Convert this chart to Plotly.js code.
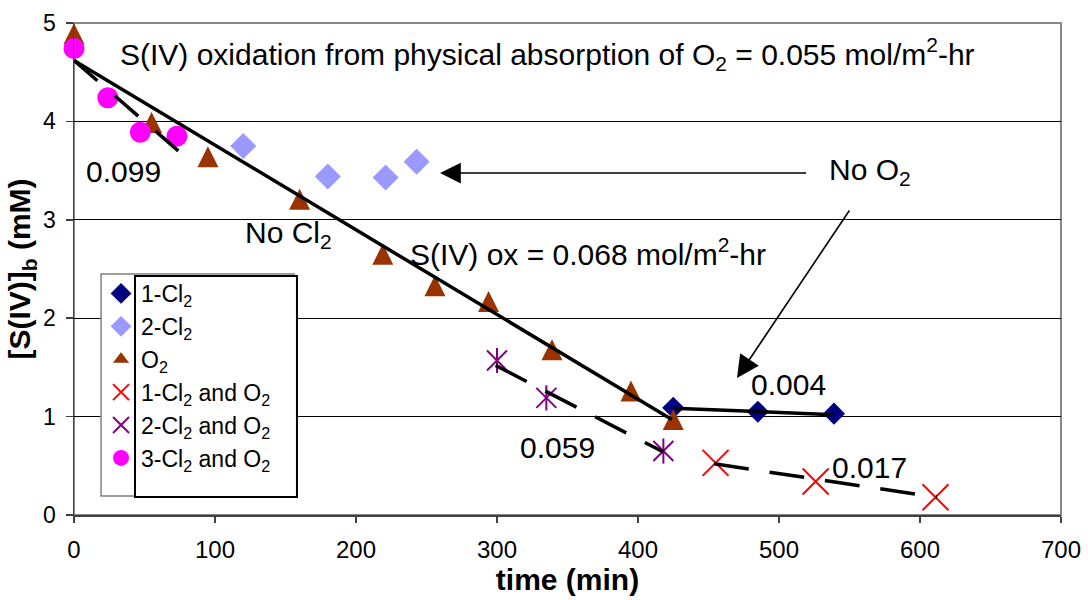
<!DOCTYPE html>
<html>
<head>
<meta charset="utf-8">
<script src="https://cdn.plot.ly/plotly-3.0.1.min.js"></script>
<style>
  html, body { margin: 0; padding: 0; background: #fff; }
  #chart { width: 1088px; height: 600px; }
</style>
</head>
<body>
<div id="chart"></div>
<script>
// Bulk S(IV) concentration (mM) against time (min) for each run
const t_1Cl2 = [425, 485, 539];
const c_1Cl2 = [1.09, 1.05, 1.03];

const t_2Cl2 = [120, 180, 221, 243];
const c_2Cl2 = [3.75, 3.44, 3.43, 3.59];

const t_O2 = [0, 55, 95, 160, 219, 256, 294, 339, 395, 425];
const c_O2 = [4.89, 3.99, 3.64, 3.21, 2.65, 2.33, 2.17, 1.68, 1.26, 0.97];

const t_1Cl2O2 = [455, 526, 611];
const c_1Cl2O2 = [0.53, 0.34, 0.18];

const t_2Cl2O2 = [300, 335, 418];
const c_2Cl2O2 = [1.57, 1.19, 0.65];

const t_3Cl2O2 = [0, 24, 47, 73];
const c_3Cl2O2 = [4.74, 4.24, 3.89, 3.85];

// Linear fits (end points) drawn over the data
const fitO2_t = [0, 424];        const fitO2_c = [4.62, 0.97];
const fit3_t = [0, 74];          const fit3_c = [4.62, 3.70];
const fit2_t = [299, 418];       const fit2_c = [1.52, 0.64];
const fit1O2_t = [454, 612];     const fit1O2_c = [0.52, 0.18];
const fit1_t = [425, 539];       const fit1_c = [1.085, 1.02];

// Legend labels
const seriesNames = [
  '1-Cl<sub>2</sub>',
  '2-Cl<sub>2</sub>',
  'O<sub>2</sub>',
  '1-Cl<sub>2</sub> and O<sub>2</sub>',
  '2-Cl<sub>2</sub> and O<sub>2</sub>',
  '3-Cl<sub>2</sub> and O<sub>2</sub>'
];

const FONT = 'Liberation Sans, Arial, sans-serif';

function pts(x, y, name, group, marker, showlegend) {
  return {
    type: 'scatter', mode: 'markers', x: x, y: y, name: name,
    legendgroup: group, showlegend: showlegend !== false,
    marker: marker, cliponaxis: false, hoverinfo: 'x+y'
  };
}
function fit(x, y, dash) {
  return {
    type: 'scatter', mode: 'lines', x: x, y: y, showlegend: false,
    line: { color: '#000', width: 3.5, dash: dash || 'solid' },
    cliponaxis: false, hoverinfo: 'skip'
  };
}

const traces = [
  pts(t_1Cl2, c_1Cl2, seriesNames[0], 'g1',
      { symbol: 'diamond', size: 17, color: '#000080' }),
  pts(t_2Cl2, c_2Cl2, seriesNames[1], 'g2',
      { symbol: 'diamond', size: 20, color: '#9999FF' }),
  // O2 run: tall triangles centred on each point
  pts(t_O2, c_O2, seriesNames[2], 'g3',
      { symbol: 'arrow-down', angle: 180, standoff: 10.5, size: 21, color: '#993300' }, false),
  // legend swatch for the O2 run (no points of its own)
  pts([null], [null], seriesNames[2], 'g3',
      { symbol: 'triangle-up', size: 14, color: '#993300' }),
  pts(t_1Cl2O2, c_1Cl2O2, seriesNames[3], 'g4',
      { symbol: 'x-thin-open', size: 26, color: '#FF0000', line: { color: '#FF0000', width: 2 } }),
  pts(t_2Cl2O2, c_2Cl2O2, seriesNames[4], 'g5',
      { symbol: 'x-thin-open', size: 20, color: '#800080', line: { color: '#800080', width: 2 } }),
  pts(t_2Cl2O2, c_2Cl2O2, seriesNames[4], 'g5',
      { symbol: 'line-ns-open', size: 18, color: '#800080', line: { color: '#800080', width: 2 } }, false),
  pts(t_3Cl2O2, c_3Cl2O2, seriesNames[5], 'g6',
      { symbol: 'circle', size: 21, color: '#FF00FF' }),
  fit(fitO2_t, fitO2_c),
  fit(fit3_t, fit3_c, '31px,23px'),
  fit(fit2_t, fit2_c, '35px,21px'),
  fit(fit1O2_t, fit1O2_c, '35px,21px'),
  fit(fit1_t, fit1_c)
];

function note(text, x, y, xanchor) {
  return {
    text: text, x: x, y: y, xref: 'x', yref: 'y',
    xanchor: xanchor || 'center', yanchor: 'middle', showarrow: false,
    font: { family: FONT, size: 30, color: '#000' }
  };
}
function pointer(x, y, ax, ay, size) {
  return {
    text: ' ', x: x, y: y, ax: ax, ay: ay, xref: 'x', yref: 'y',
    axref: 'x', ayref: 'y', showarrow: true, arrowhead: 2,
    font: { size: 2 },
    arrowsize: size, arrowwidth: 1.6, arrowcolor: '#000', standoff: 0, startstandoff: 0
  };
}

const layout = {
  width: 1088, height: 600,
  margin: { l: 74, r: 27, t: 23, b: 85, pad: 0 },
  paper_bgcolor: '#fff', plot_bgcolor: '#fff',
  font: { family: FONT, color: '#000' },
  showlegend: true,
  legend: {
    x: 0.0274, y: 0.494, xanchor: 'left', yanchor: 'top',
    bgcolor: 'rgba(0,0,0,0)', borderwidth: 0,
    font: { family: FONT, size: 23, color: '#000' },
    traceorder: 'grouped', tracegroupgap: 0, itemwidth: 30
  },
  xaxis: {
    range: [0, 700], dtick: 100, tick0: 0,
    showgrid: false, zeroline: false,
    showline: true, linecolor: '#404040', linewidth: 1.5,
    ticks: 'outside', ticklen: 6, tickwidth: 1.5, tickcolor: '#404040',
    tickfont: { family: FONT, size: 24, color: '#000' },
    ticklabelstandoff: 7,
    title: { text: 'time (min)', standoff: 6,
             font: { family: FONT, size: 30, weight: 'bold', color: '#000' } }
  },
  yaxis: {
    range: [0, 5], dtick: 1, tick0: 0,
    showgrid: true, gridcolor: '#000', gridwidth: 1, zeroline: false,
    showline: true, linecolor: '#404040', linewidth: 1.5,
    ticks: 'outside', ticklen: 7, tickwidth: 1.5, tickcolor: '#404040',
    tickfont: { family: FONT, size: 23, color: '#000' },
    ticklabelstandoff: 5,
    title: { text: '[S(IV)]<sub>b</sub> (mM)', standoff: 3,
             font: { family: FONT, size: 30, weight: 'bold', color: '#000' } }
  },
  shapes: [
    // plot frame
    { type: 'rect', xref: 'paper', yref: 'paper', x0: 0, x1: 1, y0: 0, y1: 1,
      line: { color: '#888', width: 2 }, layer: 'below' },
    // legend frame
    { type: 'rect', xref: 'paper', yref: 'paper', x0: 0.0274, x1: 0.2229, y0: 0.0386, y1: 0.4898,
      line: { color: '#808080', width: 1.5 }, fillcolor: '#fff', layer: 'above' },
    // label box
    { type: 'rect', xref: 'paper', yref: 'paper', x0: 0.0618, x1: 0.2259, y0: 0.0366, y1: 0.4858,
      line: { color: '#000', width: 2 }, fillcolor: '#fff', layer: 'above' }
  ],
  annotations: [
    note('S(IV) oxidation from physical absorption of O<sub>2</sub> = 0.055 mol/m<sup>2</sup>-hr', 31, 4.68, 'left'),
    note('0.099', 35, 3.49),
    note('No Cl<sub>2</sub>', 152, 2.85),
    note('S(IV) ox = 0.068 mol/m<sup>2</sup>-hr', 237, 2.67, 'left'),
    note('No O<sub>2</sub>', 534, 3.49, 'left'),
    note('0.004', 507, 1.33),
    note('0.059', 343, 0.69),
    note('0.017', 564, 0.48),
    pointer(259.6, 3.475, 520.6, 3.475, 2.6),
    pointer(470.2, 1.392, 551.1, 3.12, 2.8)
  ]
};

Plotly.newPlot('chart', traces, layout, { displayModeBar: false, staticPlot: true });
</script>
</body>
</html>
